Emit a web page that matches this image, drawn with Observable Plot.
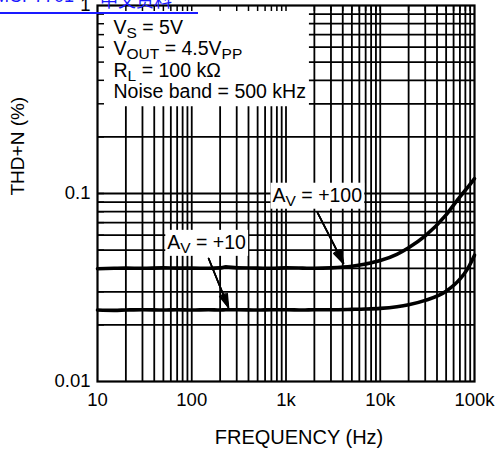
<!DOCTYPE html>
<html><head><meta charset="utf-8">
<script src="https://cdn.jsdelivr.net/npm/d3@7"></script>
<script src="https://cdn.jsdelivr.net/npm/@observablehq/plot@0.6"></script>
<style>
body{margin:0;background:#fff;}
#wrap{position:relative;width:495px;height:457px;overflow:hidden;background:#fff;}
#link{position:absolute;left:-6px;top:-14px;font:18px "Liberation Sans",Arial,sans-serif;color:#1a1aff;white-space:nowrap;}
#link .zh{position:absolute;left:106px;top:0;font-family:"Noto Sans CJK SC",sans-serif;}
#uline{position:absolute;left:0;top:12px;width:198px;height:2px;background:#1a1aff;}
</style></head><body>
<div id="wrap"><div id="chart"></div><div id="link">MCP7701<span class="zh">中文资料</span></div><div id="uline"></div></div>
<script>
// ---- data ----
const freqHz = [10,15,20,30,50,70,100,150,200,230,300,500,700,1000,1500,2000,3000,5000,7000,10000,15000,20000,30000,50000,70000,85000,100000];
const thdAv100 = [0.0398,0.0400,0.0401,0.0400,0.0402,0.0401,0.0401,0.0400,0.0402,0.0407,0.0402,0.0401,0.0400,0.0402,0.0401,0.0400,0.0402,0.0410,0.0422,0.0440,0.0475,0.0515,0.0595,0.0770,0.0960,0.1080,0.1200];
const thdAv10  = [0.0240,0.0239,0.0240,0.0241,0.0240,0.0241,0.0240,0.0241,0.0240,0.0241,0.0241,0.0240,0.0241,0.0241,0.0240,0.0241,0.0241,0.0242,0.0243,0.0245,0.0250,0.0256,0.0270,0.0302,0.0350,0.0400,0.0470];

const xTickValues = [10, 100, 1000, 10000, 100000];
const xTickLabels = ["10", "100", "1k", "10k", "100k"];
const yTickValues = [0.01, 0.1, 1];
const yTickLabels = ["0.01", "0.1", "1"];

const conditions = ["V_{S} = 5V", "V_{OUT} = 4.5V_{PP}", "R_{L} = 100 kΩ", "Noise band = 500 kHz"];
const gainLabels = ["A_{V} = +100", "A_{V} = +10"];
const gainLabelFreq = [720, 55];
const gainLabelTHD = [0.0976, 0.0548];
const arrowFromFreq = [2160, 151];
const arrowFromTHD = [0.0792, 0.0451];
const arrowToFreq = [4070, 245];
const arrowToTHD = [0.0425, 0.0248];

const xLabel = "FREQUENCY (Hz)";
const yLabel = "THD+N (%)";

// ---- derived tables ----
const series = [
  ...freqHz.map((f, i) => ({f, v: thdAv100[i], s: "Av100"})),
  ...freqHz.map((f, i) => ({f, v: thdAv10[i], s: "Av10"}))
];
const xGrid = [];
for (let e = 1; e < 5; e++) for (let m = 1; m < 10; m++) { const v = m * 10 ** e; if (v > 10 && v < 100000) xGrid.push(v); }
const yGrid = [];
for (let e = -2; e < 0; e++) for (let m = 1; m < 10; m++) { const v = +(m * 10 ** e).toPrecision(3); if (v > 0.01 && v < 1) yGrid.push(v); }
const labels = gainLabels.map((t, i) => ({t, f: gainLabelFreq[i], v: gainLabelTHD[i]}));
const arrows = arrowFromFreq.map((f, i) => ({f1: f, v1: arrowFromTHD[i], f2: arrowToFreq[i], v2: arrowToTHD[i]}));

const font = '"Liberation Sans", Arial, Helvetica, sans-serif';
const arrowMarks = [14, 24, 34].map(a => Plot.arrow(arrows, {x1: "f1", y1: "v1", x2: "f2", y2: "v2", stroke: "#000", strokeWidth: 1.6, headLength: 13, headAngle: a}));

const plot = Plot.plot({
  width: 495, height: 457,
  marginLeft: 97, marginRight: 21, marginTop: 5, marginBottom: 76,
  style: {fontSize: "18.5px", fontFamily: font, background: "#fff", color: "#000"},
  x: {type: "log", domain: [10, 100000]},
  y: {type: "log", domain: [0.01, 1]},
  marks: [
    Plot.ruleX(xGrid, {stroke: "#000", strokeWidth: 1.8}),
    Plot.ruleY(yGrid, {stroke: "#000", strokeWidth: 1.8}),
    Plot.tickY(yGrid, {stroke: "#000", strokeWidth: 1.5, insetRight: 370, className: "innerticks"}),
    Plot.tickX(xGrid, {stroke: "#000", strokeWidth: 1.5, insetBottom: 370}),
    Plot.frame({stroke: "#000", strokeWidth: 2.2}),
    Plot.line(series, {x: "f", y: "v", z: "s", stroke: "#000", strokeWidth: 3.6, curve: "monotone-x"}),
    ...arrowMarks,
    Plot.text(labels, {x: "f", y: "v", text: "t", textAnchor: "start", fill: "#000", fontSize: 19.5, className: "gainlabel"}),
    ...conditions.map((c, i) => Plot.text([c], {frameAnchor: "top-left", textAnchor: "start", lineAnchor: "middle", dx: 16, dy: 22 + 21.5 * i, fill: "#000", fontSize: 19.5, className: "cond"})),
    Plot.axisX(xTickValues, {anchor: "bottom", tickSize: 0, tickPadding: 11, tickFormat: d => xTickLabels[xTickValues.indexOf(d)], label: null}),
    Plot.axisY(yTickValues, {anchor: "left", tickSize: 0, tickPadding: 7, tickFormat: d => yTickLabels[yTickValues.indexOf(d)], label: null}),
    Plot.text([xLabel], {frameAnchor: "bottom", dx: 13, dy: 62, fill: "#000", fontSize: 20}),
    Plot.text([yLabel], {frameAnchor: "left", dx: -80, dy: 2, rotate: -90, fill: "#000", fontSize: 19})
  ]
});
document.getElementById("chart").appendChild(plot);

// subscripts: turn "_{...}" into lowered, smaller tspans
const SVGNS = "http://www.w3.org/2000/svg";
plot.querySelectorAll("text").forEach(t => {
  const s = t.textContent;
  if (!s.includes("_{")) return;
  t.textContent = "";
  const parts = s.split(/(_\{[^}]*\})/).filter(p => p.length);
  let lowered = false;
  parts.forEach(p => {
    const ts = document.createElementNS(SVGNS, "tspan");
    if (p.startsWith("_{")) {
      ts.textContent = p.slice(2, -1);
      ts.setAttribute("font-size", "15.5px");
      if (!lowered) ts.setAttribute("dy", "4");
      lowered = true;
    } else {
      ts.textContent = p;
      if (lowered) ts.setAttribute("dy", "-4");
      lowered = false;
    }
    t.appendChild(ts);
  });
});

// white backgrounds behind the annotations
const svgRect = plot.getBoundingClientRect();
const xr = plot.scale("x").range, yr = plot.scale("y").range;
let right = -Infinity, bottom = -Infinity;
plot.querySelectorAll(".cond text").forEach(t => {
  const b = t.getBoundingClientRect();
  right = Math.max(right, b.right - svgRect.left);
  bottom = Math.max(bottom, b.bottom - svgRect.top);
});
const box = document.createElementNS(SVGNS, "rect");
box.setAttribute("x", xr[0]); box.setAttribute("y", yr[1]);
box.setAttribute("width", right + 3 - xr[0]); box.setAttribute("height", bottom + 4 - yr[1]);
box.setAttribute("fill", "#fff");
const inner = plot.querySelector(".innerticks");
inner.parentNode.insertBefore(box, inner);

plot.querySelectorAll(".gainlabel text").forEach(t => {
  const b = t.getBBox();
  const r = document.createElementNS(SVGNS, "rect");
  r.setAttribute("x", b.x - 2); r.setAttribute("y", b.y - 1);
  r.setAttribute("width", b.width + 4); r.setAttribute("height", b.height + 1);
  r.setAttribute("fill", "#fff");
  if (t.getAttribute("transform")) r.setAttribute("transform", t.getAttribute("transform"));
  t.parentNode.insertBefore(r, t);
});
</script>
</body></html>
